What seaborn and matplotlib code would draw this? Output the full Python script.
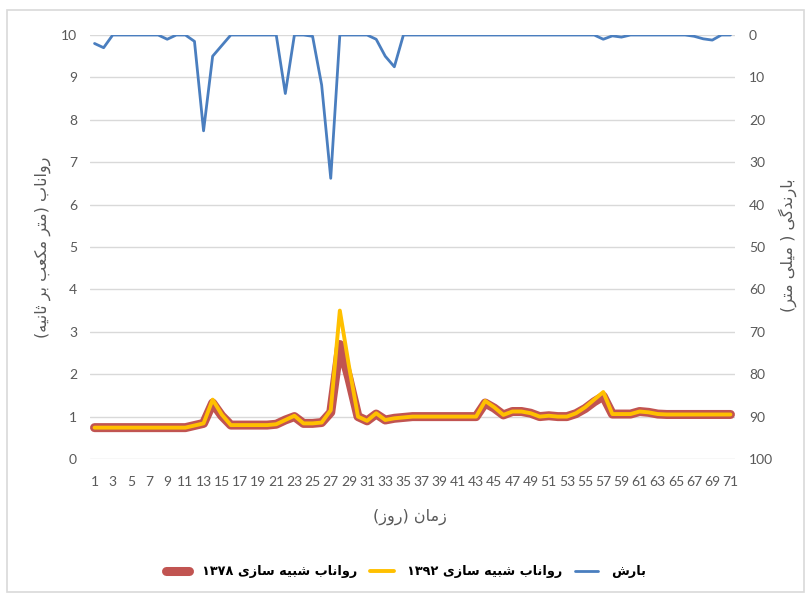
import matplotlib
matplotlib.use("Agg")
import matplotlib.pyplot as plt
import seaborn as sns
import numpy as np
import pandas as pd
from matplotlib.patches import Rectangle

# ---------------- data ----------------
days = list(range(1, 72))
tick_labels = [str(d) for d in range(1, 72, 2)]

precip = [2, 3, 0, 0, 0, 0, 0, 0, 1, 0,
          0, 1.5, 22.6, 5, 2.5, 0, 0, 0, 0, 0,
          0, 13.8, 0, 0, 0.3, 11.8, 33.8, 0, 0, 0,
          0, 1.0, 5, 7.5, 0, 0, 0, 0, 0, 0,
          0, 0, 0, 0, 0, 0, 0, 0, 0, 0,
          0, 0, 0, 0, 0, 0, 1.0, 0.2, 0.5, 0,
          0, 0, 0, 0, 0, 0, 0.3, 0.9, 1.2, 0,
          0]

runoff_1392 = [0.74, 0.74, 0.74, 0.74, 0.74, 0.74, 0.74, 0.74, 0.74, 0.74,
               0.74, 0.79, 0.84, 1.40, 1.05, 0.80, 0.80, 0.80, 0.80, 0.80,
               0.82, 0.92, 1.02, 0.84, 0.84, 0.86, 1.15, 3.50, 2.20, 1.00,
               0.90, 1.08, 0.92, 0.96, 0.98, 1.00, 1.00, 1.00, 1.00, 1.00,
               1.00, 1.00, 1.00, 1.37, 1.22, 1.04, 1.12, 1.12, 1.08, 1.00,
               1.02, 1.00, 1.00, 1.08, 1.22, 1.40, 1.58, 1.06, 1.06, 1.06,
               1.12, 1.10, 1.06, 1.05, 1.05, 1.05, 1.05, 1.05, 1.05, 1.05,
               1.05]

runoff_1378 = [0.74, 0.74, 0.74, 0.74, 0.74, 0.74, 0.74, 0.74, 0.74, 0.74,
               0.74, 0.79, 0.84, 1.32, 1.02, 0.80, 0.80, 0.80, 0.80, 0.80,
               0.82, 0.92, 1.00, 0.84, 0.84, 0.86, 1.10, 2.70, 1.90, 1.00,
               0.90, 1.06, 0.92, 0.96, 0.98, 1.00, 1.00, 1.00, 1.00, 1.00,
               1.00, 1.00, 1.00, 1.32, 1.20, 1.04, 1.12, 1.12, 1.08, 1.00,
               1.02, 1.00, 1.00, 1.07, 1.19, 1.35, 1.48, 1.06, 1.06, 1.06,
               1.12, 1.10, 1.06, 1.05, 1.05, 1.05, 1.05, 1.05, 1.05, 1.05,
               1.05]

label_precip = "بارش"
label_1392 = "رواناب شبیه سازی ۱۳۹۲"
label_1378 = "رواناب شبیه سازی ۱۳۷۸"
ylabel_left = "رواناب (متر مکعب بر ثانیه)"
ylabel_right = "بارندگی ( میلی متر)"
xlabel = "زمان (روز)"

# ------------- Persian shaping (visual order) -------------
FORMS = {
    'ا': ('\uFE8D', '\uFE8E', None, None),
    'ب': ('\uFE8F', '\uFE90', '\uFE91', '\uFE92'),
    'ت': ('\uFE95', '\uFE96', '\uFE97', '\uFE98'),
    'ث': ('\uFE99', '\uFE9A', '\uFE9B', '\uFE9C'),
    'د': ('\uFEA9', '\uFEAA', None, None),
    'ر': ('\uFEAD', '\uFEAE', None, None),
    'ز': ('\uFEAF', '\uFEB0', None, None),
    'س': ('\uFEB1', '\uFEB2', '\uFEB3', '\uFEB4'),
    'ش': ('\uFEB5', '\uFEB6', '\uFEB7', '\uFEB8'),
    'ع': ('\uFEC9', '\uFECA', '\uFECB', '\uFECC'),
    'ل': ('\uFEDD', '\uFEDE', '\uFEDF', '\uFEE0'),
    'م': ('\uFEE1', '\uFEE2', '\uFEE3', '\uFEE4'),
    'ن': ('\uFEE5', '\uFEE6', '\uFEE7', '\uFEE8'),
    'ه': ('\uFEE9', '\uFEEA', '\uFEEB', '\uFEEC'),
    'و': ('\uFEED', '\uFEEE', None, None),
    'ک': ('\uFB8E', '\uFB8F', '\uFB90', '\uFB91'),
    'گ': ('\uFB92', '\uFB93', '\uFB94', '\uFB95'),
    'ی': ('\uFBFC', '\uFBFD', '\uFBFE', '\uFBFF'),
}
DUAL = set('بتثسشعلمنهکگی')
RIGHT = set('ادرزو')


def shape(s):
    out = []
    for i, c in enumerate(s):
        if c not in FORMS:
            out.append(c)
            continue
        prev = s[i - 1] if i > 0 else ''
        nxt = s[i + 1] if i + 1 < len(s) else ''
        jp = prev in DUAL
        jn = (c in DUAL) and (nxt in DUAL or nxt in RIGHT)
        iso, fin, ini, med = FORMS[c]
        if jp and jn:
            f = med
        elif jp:
            f = fin
        elif jn:
            f = ini
        else:
            f = iso
        out.append(f)
    return ''.join(out)


def fa(s):
    sh = shape(s)
    runs = []
    for ch in sh:
        isd = ch.isdigit()
        if runs and runs[-1][0] == isd:
            runs[-1][1].append(ch)
        else:
            runs.append([isd, [ch]])
    mirror = {'(': ')', ')': '('}
    res = []
    for isd, chars in reversed(runs):
        if isd:
            res.append(''.join(chars))
        else:
            res.append(''.join(mirror.get(c, c) for c in reversed(chars)))
    return ''.join(res)


# ---------------- plot ----------------
sns.set_theme(style="white")
plt.rcParams['font.family'] = ['Lato', 'DejaVu Sans']

df = pd.DataFrame({"day": days, "precip": precip,
                   "r1392": runoff_1392, "r1378": runoff_1378})

fig = plt.figure(figsize=(8.11, 5.95), dpi=100)
ax = fig.add_axes([90 / 811, 1 - 459 / 595, 645 / 811, 424 / 595])

c_blue = "#4a7ebf"
c_yel = "#FFC000"
c_red = "#BE4B48"
grey = "#595959"
fa_font = ['DejaVu Sans']

sns.lineplot(data=df, x="day", y="r1378", ax=ax, color=c_red, lw=6.5,
             solid_capstyle="round", solid_joinstyle="round", alpha=0.95)
sns.lineplot(data=df, x="day", y="r1392", ax=ax, color=c_yel, lw=2.8,
             solid_joinstyle="round")
ax.set_xlim(0.5, 71.5)
ax.set_ylim(0, 10)
ax.set_yticks(range(0, 11))
ax.set_xticks(list(range(1, 72, 2)))
ax.set_xticklabels(tick_labels)
ax.yaxis.grid(True, color="#d9d9d9", lw=1)
ax.xaxis.grid(False)
for sp in ax.spines.values():
    sp.set_visible(False)
ax.tick_params(axis="both", length=0, colors=grey, labelsize=10)
ax.tick_params(axis="y", pad=9.4)
ax.tick_params(axis="x", pad=12)
ax.set_xlabel("")
ax.set_ylabel("")

ax2 = ax.twinx()
sns.lineplot(data=df, x="day", y="precip", ax=ax2, color=c_blue, lw=2.0,
             solid_joinstyle="round")
ax2.set_ylim(100, 0)
ax2.set_yticks(range(0, 101, 10))
for sp in ax2.spines.values():
    sp.set_visible(False)
ax2.tick_params(axis="y", length=0, colors=grey, labelsize=10, pad=10)
ax2.set_ylabel("")
ax2.grid(False)

# axis titles
fig.text(43 / 811, 1 - 247 / 595, fa(ylabel_left), rotation=90, ha="center",
         va="center", color=grey, fontsize=11.5, family=fa_font)
fig.text(788 / 811, 1 - 245 / 595, fa(ylabel_right), rotation=90, ha="center",
         va="center", color=grey, fontsize=11.5, family=fa_font)
fig.text(410 / 811, 1 - 517 / 595, fa(xlabel), ha="center", va="center",
         color=grey, fontsize=11.5, family=fa_font)

# legend
h_red = ax.lines[0]
h_yel = ax.lines[1]
h_blue = ax2.lines[0]
leg = fig.legend([h_red, h_yel, h_blue],
                 [fa(label_1378), fa(label_1392), fa(label_precip)],
                 loc="center", bbox_to_anchor=(406 / 811, 1 - 572 / 595),
                 ncol=3, frameon=False,
                 prop={"family": fa_font, "size": 9.3, "weight": "bold"},
                 handlelength=1.8, handletextpad=1.0, columnspacing=1.0)
for t in leg.get_texts():
    t.set_color("black")

# chart border
fig.patches.append(Rectangle((7 / 811, 3 / 595), 797 / 811, 582 / 595,
                             transform=fig.transFigure, fill=False,
                             edgecolor="#d9d9d9", lw=1.2))

fig.savefig("out.png", dpi=100)
